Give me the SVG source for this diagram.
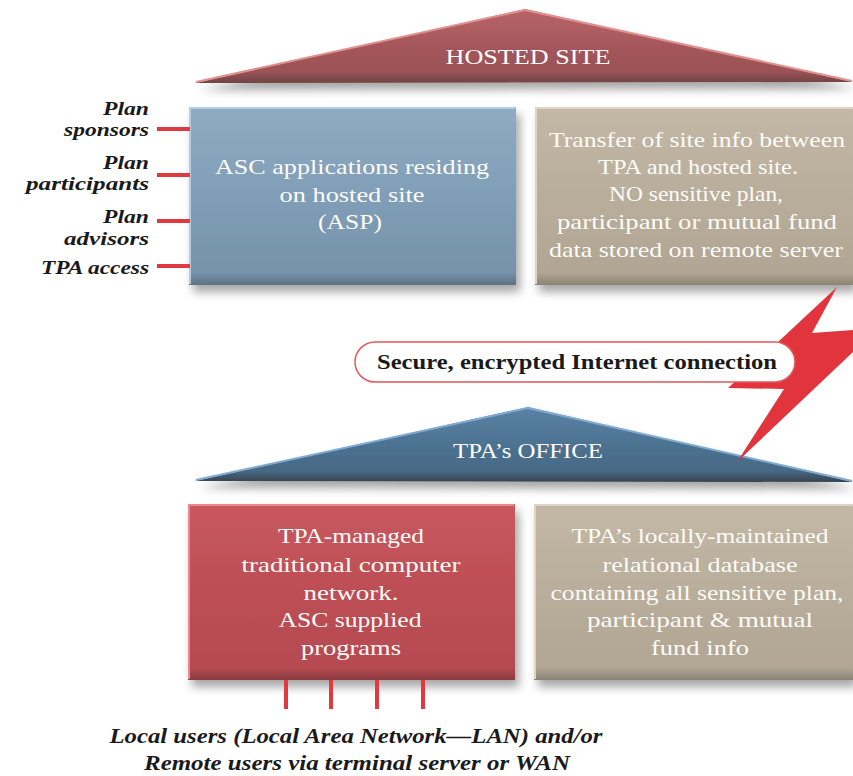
<svg xmlns="http://www.w3.org/2000/svg" width="853" height="776" viewBox="0 0 853 776">
<defs>
  <filter id="shadow" x="-10%" y="-10%" width="125%" height="130%">
    <feDropShadow dx="4" dy="7" stdDeviation="5" flood-color="#000" flood-opacity="0.35"/>
  </filter>
  <linearGradient id="gRoofRed" x1="0" y1="0" x2="0" y2="1">
    <stop offset="0" stop-color="#b96468"/>
    <stop offset="0.55" stop-color="#a3565a"/>
    <stop offset="0.85" stop-color="#9a5256"/>
    <stop offset="1" stop-color="#6e4446"/>
  </linearGradient>
  <linearGradient id="gRoofBlue" x1="0" y1="0" x2="0" y2="1">
    <stop offset="0" stop-color="#5a82a4"/>
    <stop offset="0.55" stop-color="#4c7190"/>
    <stop offset="0.85" stop-color="#476985"/>
    <stop offset="1" stop-color="#37444f"/>
  </linearGradient>
  <linearGradient id="gBlue" x1="0" y1="0" x2="0" y2="1">
    <stop offset="0" stop-color="#8eabc3"/>
    <stop offset="0.5" stop-color="#809eb7"/>
    <stop offset="0.93" stop-color="#7693ab"/>
    <stop offset="1" stop-color="#5d7284"/>
  </linearGradient>
  <linearGradient id="gTan" x1="0" y1="0" x2="0" y2="1">
    <stop offset="0" stop-color="#c2b8a5"/>
    <stop offset="0.5" stop-color="#b8ae9b"/>
    <stop offset="0.93" stop-color="#b0a693"/>
    <stop offset="1" stop-color="#8a8374"/>
  </linearGradient>
  <linearGradient id="gRed" x1="0" y1="0" x2="0" y2="1">
    <stop offset="0" stop-color="#c8585f"/>
    <stop offset="0.5" stop-color="#bd4e55"/>
    <stop offset="0.93" stop-color="#b64a51"/>
    <stop offset="1" stop-color="#8a3c40"/>
  </linearGradient>
  <style>
    .body { font-family: "Liberation Serif", "DejaVu Serif", serif; font-size: 22px; fill: #fdfbf8; text-anchor: middle; }
    .roof { font-family: "Liberation Serif", "DejaVu Serif", serif; font-size: 22px; fill: #ffffff; text-anchor: middle; }
    .lbl { font-family: "Liberation Serif", "DejaVu Serif", serif; font-size: 18px; font-weight: bold; font-style: italic; fill: #1a1a1a; text-anchor: end; }
    .cap { font-family: "Liberation Serif", "DejaVu Serif", serif; font-size: 22px; font-weight: bold; font-style: italic; fill: #1a1a1a; text-anchor: middle; }
    .conn { font-family: "Liberation Serif", "DejaVu Serif", serif; font-size: 20px; font-weight: bold; fill: #1a1a1a; text-anchor: middle; }
    .tick { stroke: #e0393f; stroke-width: 4; fill: none; }
    .hl { fill: none; stroke-width: 2; }
  </style>
</defs>
<rect width="853" height="776" fill="#ffffff"/>

<g id="roof-hosted">
  <polygon points="195,83 525,9 853,82" fill="url(#gRoofRed)" filter="url(#shadow)"/>
  <polyline class="hl" points="196,82 525,10 852,81" stroke="#e2908f"/>
  <text class="roof" x="528" y="64" textLength="165" lengthAdjust="spacingAndGlyphs">HOSTED SITE</text>
</g>

<g id="box-asp">
  <rect x="189" y="107" width="327" height="178" fill="url(#gBlue)" filter="url(#shadow)"/>
  <polyline class="hl" points="190,284 190,108 515,108" stroke="#b5cde0"/>
  <text class="body" x="352" y="174" textLength="274" lengthAdjust="spacingAndGlyphs">ASC applications residing</text>
  <text class="body" x="352" y="202" textLength="145" lengthAdjust="spacingAndGlyphs">on hosted site</text>
  <text class="body" x="350" y="229" textLength="64" lengthAdjust="spacingAndGlyphs">(ASP)</text>
</g>

<g id="box-transfer">
  <rect x="535" y="107" width="318" height="178" fill="url(#gTan)" filter="url(#shadow)"/>
  <polyline class="hl" points="536,284 536,108 853,108" stroke="#ddd5c5"/>
  <text class="body" x="697" y="147" textLength="296" lengthAdjust="spacingAndGlyphs">Transfer of site info between</text>
  <text class="body" x="698" y="174" textLength="200" lengthAdjust="spacingAndGlyphs">TPA and hosted site.</text>
  <text class="body" x="696" y="201" textLength="174" lengthAdjust="spacingAndGlyphs">NO sensitive plan,</text>
  <text class="body" x="697" y="229" textLength="280" lengthAdjust="spacingAndGlyphs">participant or mutual fund</text>
  <text class="body" x="696" y="257" textLength="294" lengthAdjust="spacingAndGlyphs">data stored on remote server</text>
</g>

<g id="labels">
  <text class="lbl" x="149" y="115" textLength="46" lengthAdjust="spacingAndGlyphs">Plan</text>
  <text class="lbl" x="149" y="136" textLength="85" lengthAdjust="spacingAndGlyphs">sponsors</text>
  <text class="lbl" x="149" y="169" textLength="46" lengthAdjust="spacingAndGlyphs">Plan</text>
  <text class="lbl" x="149" y="190" textLength="123" lengthAdjust="spacingAndGlyphs">participants</text>
  <text class="lbl" x="149" y="223" textLength="46" lengthAdjust="spacingAndGlyphs">Plan</text>
  <text class="lbl" x="149" y="245" textLength="85" lengthAdjust="spacingAndGlyphs">advisors</text>
  <text class="lbl" x="149" y="274" textLength="108" lengthAdjust="spacingAndGlyphs">TPA access</text>
</g>

<g id="roof-tpa">
  <polygon points="195,481 528,407 853,482" fill="url(#gRoofBlue)" filter="url(#shadow)"/>
  <polyline class="hl" points="196,480 528,408 852,481" stroke="#7fabd2"/>
  <text class="roof" x="528" y="458" textLength="150" lengthAdjust="spacingAndGlyphs">TPA’s OFFICE</text>
</g>

<g id="internet-connection">
  <polygon points="837,287 778,342 728,388 784,389 737,462 853,352 853,330 812,333" fill="#e2343d"/>
  <rect x="355" y="342" width="440" height="40" rx="20" ry="20" fill="#ffffff" stroke="#e4575d" stroke-width="1.5"/>
  <text class="conn" x="577" y="369" textLength="400" lengthAdjust="spacingAndGlyphs">Secure, encrypted Internet connection</text>
</g>

<g id="box-network">
  <rect x="188" y="504" width="327" height="176" fill="url(#gRed)" filter="url(#shadow)"/>
  <polyline class="hl" points="189,679 189,505 514,505" stroke="#e8898b"/>
  <text class="body" x="351" y="543" textLength="146" lengthAdjust="spacingAndGlyphs">TPA-managed</text>
  <text class="body" x="351" y="572" textLength="219" lengthAdjust="spacingAndGlyphs">traditional computer</text>
  <text class="body" x="351" y="600" textLength="95" lengthAdjust="spacingAndGlyphs">network.</text>
  <text class="body" x="350" y="627" textLength="143" lengthAdjust="spacingAndGlyphs">ASC supplied</text>
  <text class="body" x="351" y="655" textLength="100" lengthAdjust="spacingAndGlyphs">programs</text>
</g>

<g id="box-database">
  <rect x="534" y="504" width="319" height="176" fill="url(#gTan)" filter="url(#shadow)"/>
  <polyline class="hl" points="535,679 535,505 853,505" stroke="#ddd5c5"/>
  <text class="body" x="700" y="543" textLength="257" lengthAdjust="spacingAndGlyphs">TPA’s locally-maintained</text>
  <text class="body" x="700" y="572" textLength="195" lengthAdjust="spacingAndGlyphs">relational database</text>
  <text class="body" x="697" y="600" textLength="293" lengthAdjust="spacingAndGlyphs">containing all sensitive plan,</text>
  <text class="body" x="700" y="627" textLength="226" lengthAdjust="spacingAndGlyphs">participant &amp; mutual</text>
  <text class="body" x="700" y="655" textLength="98" lengthAdjust="spacingAndGlyphs">fund info</text>
</g>

<g id="connectors">
  <line class="tick" x1="157" y1="129" x2="190" y2="129"/>
  <line class="tick" x1="157" y1="175" x2="190" y2="175"/>
  <line class="tick" x1="157" y1="221" x2="190" y2="221"/>
  <line class="tick" x1="157" y1="266" x2="190" y2="266"/>
  <line class="tick" x1="286" y1="680" x2="286" y2="709"/>
  <line class="tick" x1="331" y1="680" x2="331" y2="709"/>
  <line class="tick" x1="377" y1="680" x2="377" y2="709"/>
  <line class="tick" x1="423" y1="680" x2="423" y2="709"/>
</g>

<g id="caption">
  <text class="cap" x="356" y="743" textLength="493" lengthAdjust="spacingAndGlyphs">Local users (Local Area Network—LAN) and/or</text>
  <text class="cap" x="357" y="770" textLength="426" lengthAdjust="spacingAndGlyphs">Remote users via terminal server or WAN</text>
</g>
</svg>
